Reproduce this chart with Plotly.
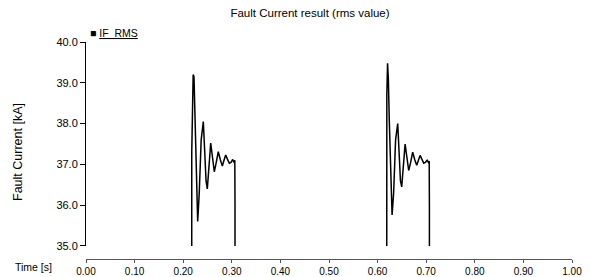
import plotly.graph_objects as go

# Time samples (s) and RMS fault current (kA) for one fault event
pulse_t = [0.2175, 0.2176, 0.2190, 0.2205, 0.2222, 0.2240, 0.2270, 0.2298, 0.2330,
           0.2370, 0.2414, 0.2440, 0.2470, 0.2496, 0.2530, 0.2566, 0.2600, 0.2640,
           0.2680, 0.2722, 0.2763, 0.2805, 0.2840, 0.2874, 0.2910, 0.2949, 0.2984,
           0.3019, 0.3045, 0.3062, 0.3066, 0.3068, 0.3070]
pulse1_v = [0.0, 37.3, 38.6, 39.2, 39.15, 38.2, 36.6, 35.6, 36.3,
            37.6, 38.05, 37.4, 36.6, 36.4, 36.9, 37.52, 37.2, 36.82,
            37.05, 37.31, 37.12, 36.96, 37.1, 37.23, 37.13, 37.03, 37.05,
            37.12, 37.05, 37.1, 36.0, 35.9, 0.0]
pulse2_v = [0.0, 37.2, 38.7, 39.48, 39.07, 38.1, 36.7, 35.76, 36.3,
            37.6, 38.0, 37.4, 36.6, 36.45, 36.9, 37.5, 37.2, 36.85,
            37.05, 37.3, 37.12, 36.98, 37.1, 37.22, 37.13, 37.03, 37.05,
            37.1, 37.05, 37.08, 36.0, 35.9, 0.0]
second_fault_offset = 0.4

times = [0.0] + pulse_t + [t + second_fault_offset for t in pulse_t] + [1.0]
values = [0.0] + pulse1_v + pulse2_v + [0.0]

x_ticks = [0.0, 0.1, 0.2, 0.3, 0.4, 0.5, 0.6, 0.7, 0.8, 0.9, 1.0]
y_ticks = [35.0, 36.0, 37.0, 38.0, 39.0, 40.0]

font = "Liberation Sans, Arial, sans-serif"
PAGE_OFFSET = 8  # default body margin of the written html page

fig = go.Figure()
fig.add_trace(go.Scatter(x=times, y=values, mode="lines", name="IF_RMS",
                         line=dict(color="black", width=1.5), showlegend=False))

fig.update_layout(
    width=590, height=277,
    margin=dict(l=86 - PAGE_OFFSET, r=590 - 572 + PAGE_OFFSET,
                t=42 - PAGE_OFFSET, b=277 - 259 + PAGE_OFFSET),
    paper_bgcolor="white", plot_bgcolor="white",
    font=dict(family=font, size=10, color="black"),
    title=dict(text="Fault Current result (rms value)", x=(310 - PAGE_OFFSET) / 590,
               xref="container", xanchor="center", y=1 - (13 - PAGE_OFFSET) / 277,
               yanchor="middle", yref="container",
               font=dict(size=11.5, family=font)),
    xaxis=dict(range=[0, 1.0], tickvals=x_ticks, tickformat=".2f", automargin=False,
               showgrid=False, zeroline=False, showline=True, linecolor="#555",
               linewidth=1, ticks="outside", ticklen=3, tickcolor="#555",
               anchor="free", position=0, tickfont=dict(size=10)),
    yaxis=dict(range=[35.0, 40.0], tickvals=y_ticks, tickformat=".1f", automargin=False,
               showgrid=False, zeroline=False, showline=True, linecolor="black",
               linewidth=1, ticks="outside", ticklen=5, tickcolor="black",
               domain=[0.06, 1.0], tickfont=dict(size=11)),
)

fig.add_annotation(text="Fault Current [kA]", textangle=-90, xref="paper", yref="paper",
                   x=(18 - 86) / 486, y=(259 - 152) / 217, xanchor="center", yanchor="middle",
                   showarrow=False, font=dict(size=12.5, family=font))
fig.add_annotation(text="Time [s]", xref="paper", yref="paper",
                   x=(13 - 86) / 486, y=(259 - 267) / 217, xanchor="left", yanchor="middle",
                   showarrow=False, font=dict(size=10.5, family=font))
fig.add_annotation(text="■ <u>IF_RMS</u>", xref="paper", yref="paper",
                   x=(88 - 86) / 486, y=(259 - 33) / 217, xanchor="left", yanchor="middle",
                   showarrow=False, font=dict(size=10.5, family=font))

fig.write_html("out.html")
